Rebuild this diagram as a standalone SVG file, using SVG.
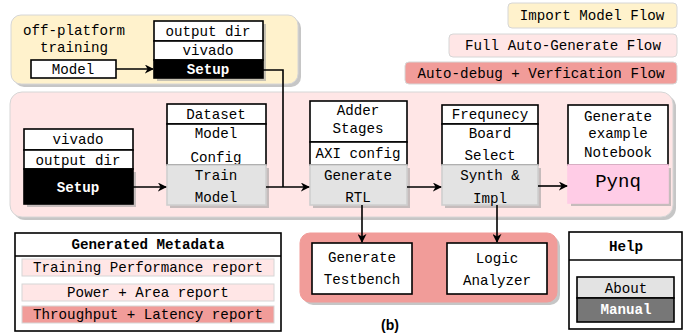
<svg xmlns="http://www.w3.org/2000/svg" width="685" height="334" viewBox="0 0 685 334">
<defs>
<style>
text{font-family:"Liberation Mono","Courier New",monospace;font-size:14.2px;text-anchor:middle;fill:#000}
.b{font-weight:bold}
.w{fill:#fff}
.box{fill:#fff;stroke:#000;stroke-width:1.6}
.blk{fill:#000;stroke:#000;stroke-width:1.6}
.gry{fill:#e3e3e3;stroke:#cfcfcf;stroke-width:1.6}
.sh{fill:#a0a0a0;opacity:0.6}
.ln{fill:none;stroke:#000;stroke-width:1.6}
</style>
<marker id="ah" viewBox="0 0 10 10" refX="9" refY="5" markerWidth="9" markerHeight="9" markerUnits="userSpaceOnUse" orient="auto"><path d="M0,0 L10,5 L0,10 L3,5 z" fill="#000"/></marker>
</defs>
<rect width="685" height="334" fill="#fff"/>
<!-- legend -->
<g id="legend-import"><rect x="508" y="3" width="169" height="25" rx="4" fill="#fff2cc" stroke="#d6d6d6"/><text x="592" y="20">Import Model Flow</text></g>
<g id="legend-full"><rect x="449" y="34" width="228" height="23" rx="4" fill="#ffe6e6" stroke="#d6d6d6"/><text x="563" y="50">Full Auto-Generate Flow</text></g>
<g id="legend-debug"><rect x="405" y="62" width="272" height="22" rx="4" fill="#f19c99" stroke="#d6d6d6"/><text x="541" y="78">Auto-debug + Verfication Flow</text></g>
<!-- panels -->
<g id="panel-import">
<rect x="14" y="18" width="287" height="69" rx="10" class="sh"/>
<rect x="11" y="15" width="287" height="69" rx="10" fill="#fff2cc" stroke="#d6d6d6"/>
<text x="74" y="35">off-platform</text><text x="74" y="52">training</text>
</g>
<g id="panel-full">
<rect x="13" y="95" width="663" height="125" rx="12" class="sh"/>
<rect x="10" y="92" width="663" height="125" rx="12" fill="#ffe6e6" stroke="#d6d6d6"/>
</g>
<g id="panel-debug">
<rect x="303" y="236" width="257" height="69" rx="10" class="sh"/>
<rect x="300" y="233" width="257" height="69" rx="10" fill="#f19c99" stroke="#f19c99"/>
</g>
<!-- import flow nodes -->
<g id="model-top"><rect x="31" y="60" width="85" height="18" class="box"/><text x="73" y="74">Model</text></g>
<g id="setup-top">
<rect x="157" y="24" width="109" height="57" class="sh"/>
<rect x="154" y="21" width="109" height="20" class="box"/><text x="208" y="36">output dir</text>
<rect x="154" y="41" width="109" height="19" class="box"/><text x="208" y="55">vivado</text>
<rect x="154" y="60" width="109" height="18" class="blk"/><text x="208" y="74" class="b w">Setup</text>
</g>
<!-- full flow nodes -->
<g id="setup-left">
<rect x="27" y="172" width="109" height="35" class="sh"/>
<rect x="24" y="129" width="109" height="21" class="box"/><text x="78" y="144">vivado</text>
<rect x="24" y="150" width="109" height="19" class="box"/><text x="78" y="165">output dir</text>
<rect x="24" y="169" width="109" height="35" class="blk"/><text x="78" y="192" class="b w">Setup</text>
</g>
<g id="train">
<rect x="167" y="104" width="99" height="20" class="box"/><text x="216" y="119">Dataset</text>
<rect x="167" y="124" width="99" height="41" class="box"/><text x="216" y="138">Model</text><text x="216" y="162">Config</text>
<rect x="170" y="168" width="99" height="40" class="sh"/>
<rect x="167" y="165" width="99" height="40" class="gry"/><text x="216" y="180">Train</text><text x="216" y="202">Model</text>
</g>
<g id="rtl">
<rect x="310" y="101" width="97" height="41" class="box"/><text x="358" y="115">Adder</text><text x="358" y="133">Stages</text>
<rect x="310" y="142" width="97" height="23" class="box"/><text x="358" y="158">AXI config</text>
<rect x="313" y="168" width="97" height="40" class="sh"/>
<rect x="310" y="165" width="97" height="40" class="gry"/><text x="358" y="180">Generate</text><text x="358" y="202">RTL</text>
</g>
<g id="synth">
<rect x="442" y="105" width="96" height="19" class="box"/><text x="490" y="119">Frequnecy</text>
<rect x="442" y="124" width="96" height="41" class="box"/><text x="490" y="138">Board</text><text x="490" y="160">Select</text>
<rect x="445" y="168" width="96" height="40" class="sh"/>
<rect x="442" y="165" width="96" height="40" class="gry"/><text x="490" y="180">Synth &amp;</text><text x="490" y="203">Impl</text>
</g>
<g id="pynq">
<rect x="568" y="105" width="100" height="60" class="box"/><text x="618" y="121">Generate</text><text x="618" y="138">example</text><text x="618" y="157">Notebook</text>
<rect x="571" y="168" width="100" height="38" class="sh"/>
<rect x="568" y="165" width="100" height="38" fill="#ffcce6" stroke="#ffcce6" stroke-width="1.6"/><text x="618" y="187" style="font-size:19px">Pynq</text>
</g>
<!-- debug nodes -->
<g id="testbench"><rect x="312" y="243" width="100" height="51" class="box"/><text x="362" y="262">Generate</text><text x="362" y="284">Testbench</text></g>
<g id="logic"><rect x="447" y="243" width="100" height="51" class="box"/><text x="497" y="263">Logic</text><text x="497" y="285">Analyzer</text></g>
<!-- metadata -->
<g id="metadata">
<rect x="15" y="233" width="266" height="98" class="box"/>
<line x1="15" y1="256" x2="281" y2="256" stroke="#000" stroke-width="1.6"/>
<text x="148" y="249" class="b">Generated Metadata</text>
<rect x="22" y="259" width="252" height="17" fill="#ffe6e6" stroke="#d6d6d6"/><text x="148" y="272">Training Performance report</text>
<rect x="22" y="284" width="252" height="17" fill="#ffe6e6" stroke="#d6d6d6"/><text x="148" y="297">Power + Area report</text>
<rect x="22" y="306" width="252" height="17" fill="#f19c99" stroke="#d6d6d6"/><text x="148" y="319">Throughput + Latency report</text>
</g>
<!-- help -->
<g id="help">
<rect x="569" y="232" width="113" height="97" class="box"/>
<line x1="569" y1="260" x2="682" y2="260" stroke="#000" stroke-width="1.6"/>
<text x="626" y="251" class="b">Help</text>
<rect x="577" y="277" width="97" height="21" fill="#e3e3e3" stroke="#000" stroke-width="1.6"/><text x="626" y="293">About</text>
<rect x="577" y="298" width="97" height="24" fill="#777" stroke="#000" stroke-width="1.6"/><text x="626" y="314" class="b w">Manual</text>
</g>
<text x="390" y="330" style="font-family:'Liberation Sans',Arial,sans-serif;font-weight:bold;font-size:14px">(b)</text>
<!-- connectors -->
<g id="connectors">
<path d="M116,69 H153" class="ln" marker-end="url(#ah)"/>
<path d="M263,70 H283 V187" class="ln"/>
<path d="M133,187 H166" class="ln" marker-end="url(#ah)"/>
<path d="M266,187 H309" class="ln" marker-end="url(#ah)"/>
<path d="M407,187 H441" class="ln" marker-end="url(#ah)"/>
<path d="M538,186 H567" class="ln" marker-end="url(#ah)"/>
<path d="M362,205 V242" class="ln" marker-end="url(#ah)"/>
<path d="M497,205 V242" class="ln" marker-end="url(#ah)"/>
</g>
</svg>
